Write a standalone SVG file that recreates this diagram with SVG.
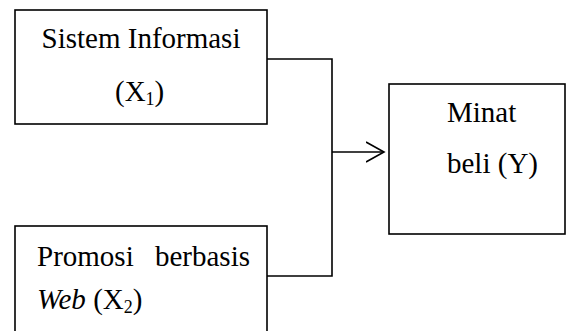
<svg xmlns="http://www.w3.org/2000/svg" width="566" height="331" viewBox="0 0 566 331">
  <style>
    .box { fill: #ffffff; stroke: #000000; stroke-width: 1.6; }
    .wire { fill: none; stroke: #000000; stroke-width: 1.6; }
    .lbl { font-family: "Liberation Serif", "Times New Roman", serif; font-size: 29px; fill: #000000; }
    .sub { font-size: 18px; }
  </style>
  <defs>
    <marker id="openArrow" markerWidth="20" markerHeight="24" refX="18" refY="11" orient="auto" markerUnits="userSpaceOnUse">
      <path d="M0,1 L18,11 L0,21" fill="none" stroke="#000000" stroke-width="1.6"/>
    </marker>
  </defs>
  <rect width="566" height="331" fill="#ffffff"/>

  <!-- connectors -->
  <g id="connectors">
    <path class="wire" d="M267,59 H332 V276 H267"/>
    <line class="wire" x1="332" y1="152" x2="384" y2="152" marker-end="url(#openArrow)"/>
  </g>

  <!-- independent variable X1 -->
  <g id="node-x1">
    <rect class="box" x="15" y="10" width="252" height="114"/>
    <text class="lbl" x="141" y="48" text-anchor="middle">Sistem Informasi</text>
    <text class="lbl" x="115" y="101">(X<tspan class="sub" dy="4">1</tspan><tspan dy="-4">)</tspan></text>
  </g>

  <!-- independent variable X2 (justified first line) -->
  <g id="node-x2">
    <rect class="box" x="15" y="226" width="252" height="120"/>
    <text class="lbl" x="37" y="266">Promosi</text>
    <text class="lbl" x="250" y="266" text-anchor="end">berbasis</text>
    <text class="lbl" x="37" y="309"><tspan font-style="italic">Web</tspan> (X<tspan class="sub" dy="4">2</tspan><tspan dy="-4">)</tspan></text>
  </g>

  <!-- dependent variable Y -->
  <g id="node-y">
    <rect class="box" x="389" y="84" width="176" height="150"/>
    <text class="lbl" x="447" y="122">Minat</text>
    <text class="lbl" x="447" y="173">beli (Y)</text>
  </g>
</svg>
